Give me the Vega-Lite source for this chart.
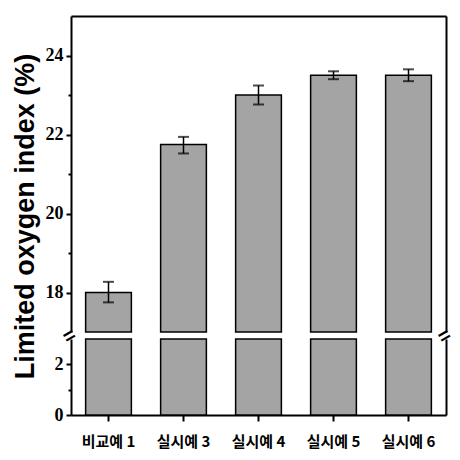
{
  "$schema": "https://vega.github.io/schema/vega-lite/v6.json",
  "background": "white",
  "padding": {"left": 11, "top": 16, "right": 10, "bottom": 5},
  "bounds": "flush",
  "datasets": {
    "loi": [
      {"sample": "비교예 1", "loi": 18.0, "lo": 17.75, "hi": 18.27},
      {"sample": "실시예 3", "loi": 21.75, "lo": 21.52, "hi": 21.94},
      {"sample": "실시예 4", "loi": 23.0, "lo": 22.76, "hi": 23.24},
      {"sample": "실시예 5", "loi": 23.5, "lo": 23.4, "hi": 23.6},
      {"sample": "실시예 6", "loi": 23.5, "lo": 23.35, "hi": 23.65}
    ],
    "breaks": [
      {"side": "left", "sample": "비교예 1", "pos": 3},
      {"side": "right", "sample": "실시예 6", "pos": 3}
    ]
  },
  "data": {"name": "loi"},
  "config": {
    "view": {"stroke": null},
    "axis": {
      "domainColor": "black",
      "domainWidth": 2,
      "tickColor": "black",
      "tickWidth": 2,
      "labelColor": "black",
      "grid": false,
      "labelFont": "Liberation Sans Narrow",
      "labelFontWeight": "bold",
      "labelFontSize": 18
    }
  },
  "spacing": 7,
  "vconcat": [
    {
      "width": 375,
      "height": 316,
      "layer": [
        {
          "mark": {"type": "bar", "fill": "#a4a4a4", "stroke": "black", "strokeWidth": 1.5},
          "encoding": {
            "x": {
              "field": "sample", "type": "nominal", "sort": null,
              "scale": {"paddingInner": 0.39, "paddingOuter": 0.195},
              "axis": {"orient": "top", "labels": false, "ticks": false, "title": null}
            },
            "y": {
              "field": "loi", "type": "quantitative",
              "scale": {"domain": [17, 25], "zero": false, "nice": false, "clamp": true},
              "axis": {
                "values": [18, 19, 20, 21, 22, 23, 24],
                "labelExpr": "datum.value % 2 == 0 ? datum.label : ''",
                "tickSize": {"condition": {"test": "datum.value % 2 == 0", "value": 5}, "value": 3},
                "labelPadding": 3,
                "title": "Limited oxygen index (%)",
                "titleY": 200,
                "titleFont": "Liberation Sans",
                "titleFontSize": 27,
                "titleFontWeight": "bold",
                "titleColor": "black",
                "titlePadding": 6
              }
            }
          }
        },
        {
          "mark": {"type": "rule", "color": "black", "strokeWidth": 1.5},
          "encoding": {
            "x": {"field": "sample", "type": "nominal", "sort": null},
            "y": {"field": "lo", "type": "quantitative", "axis": null},
            "y2": {"field": "hi"}
          }
        },
        {
          "mark": {"type": "tick", "color": "black", "size": 11, "thickness": 2},
          "encoding": {
            "x": {"field": "sample", "type": "nominal", "sort": null},
            "y": {"field": "hi", "type": "quantitative", "axis": null}
          }
        },
        {
          "mark": {"type": "tick", "color": "black", "size": 11, "thickness": 2},
          "encoding": {
            "x": {"field": "sample", "type": "nominal", "sort": null},
            "y": {"field": "lo", "type": "quantitative", "axis": null}
          }
        },
        {
          "mark": {"type": "rule", "opacity": 0},
          "encoding": {
            "y": {
              "datum": 17, "type": "quantitative",
              "axis": {"orient": "right", "labels": false, "ticks": false, "title": null}
            }
          }
        }
      ],
      "resolve": {"axis": {"y": "independent"}}
    },
    {
      "width": 375,
      "height": 76,
      "layer": [
        {
          "mark": {"type": "bar", "fill": "#a4a4a4", "stroke": "black", "strokeWidth": 1.5},
          "encoding": {
            "x": {
              "field": "sample", "type": "nominal", "sort": null,
              "scale": {"paddingInner": 0.39, "paddingOuter": 0.195},
              "axis": {
                "title": null, "labelAngle": 0, "tickSize": 6, "labelPadding": 13,
                "labelFont": "Noto Sans CJK KR", "labelFontSize": 15, "labelFontWeight": "bold"
              }
            },
            "y": {
              "field": "loi", "type": "quantitative",
              "scale": {"domain": [0, 3], "nice": false, "clamp": true},
              "axis": {
                "values": [0, 1, 2],
                "labelExpr": "datum.value % 2 == 0 ? datum.label : ''",
                "tickSize": {"condition": {"test": "datum.value % 2 == 0", "value": 5}, "value": 3},
                "labelPadding": 3,
                "title": null
              }
            }
          }
        },
        {
          "data": {"name": "breaks"},
          "transform": [{"filter": "datum.side == 'left'"}],
          "mark": {"type": "text", "angle": 330, "fontSize": 20, "fontWeight": "bold", "baseline": "middle", "align": "center", "dy": -3},
          "encoding": {
            "x": {"field": "sample", "type": "nominal", "sort": null, "bandPosition": -0.3197},
            "y": {"field": "pos", "type": "quantitative", "axis": null},
            "text": {"value": "="},
            "color": {"value": "black"}
          }
        },
        {
          "data": {"name": "breaks"},
          "transform": [{"filter": "datum.side == 'right'"}],
          "mark": {"type": "text", "angle": 330, "fontSize": 20, "fontWeight": "bold", "baseline": "middle", "align": "center", "dy": -3},
          "encoding": {
            "x": {"field": "sample", "type": "nominal", "sort": null, "bandPosition": 1.3197},
            "y": {"field": "pos", "type": "quantitative", "axis": null},
            "text": {"value": "="},
            "color": {"value": "black"}
          }
        },
        {
          "mark": {"type": "rule", "opacity": 0},
          "encoding": {
            "y": {
              "datum": 0, "type": "quantitative",
              "axis": {"orient": "right", "labels": false, "ticks": false, "title": null}
            }
          }
        }
      ],
      "resolve": {"axis": {"y": "independent"}}
    }
  ]
}
